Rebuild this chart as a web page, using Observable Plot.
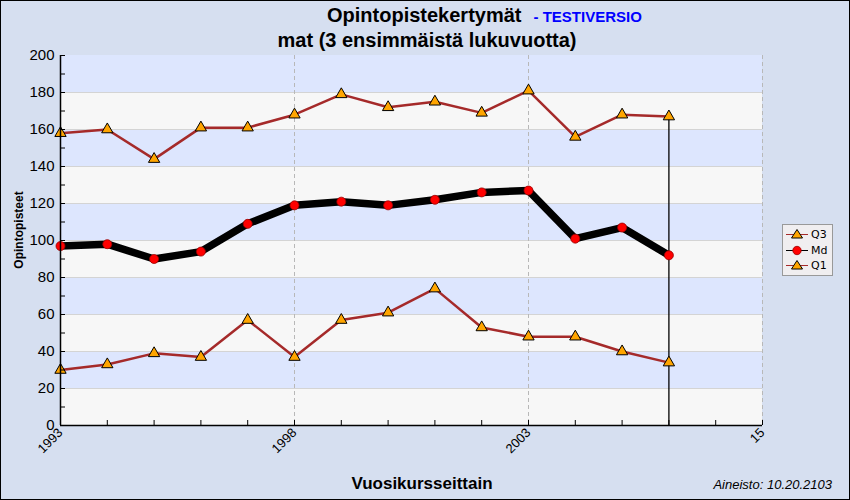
<!DOCTYPE html>
<html>
<head>
<meta charset="utf-8">
<script src="https://cdn.jsdelivr.net/npm/d3@7"></script>
<script src="https://cdn.jsdelivr.net/npm/@observablehq/plot@0.6"></script>
<style>
  body { margin: 0; }
  #wrap { position: relative; width: 850px; height: 500px; background: #d6dff0; overflow: hidden; font-family: "Liberation Sans", Arial, sans-serif; }
  #border { position: absolute; left: 0; top: 0; width: 850px; height: 500px; box-sizing: border-box; border: 1px solid #000; pointer-events: none; }
  #legend { position: absolute; left: 782px; top: 224px; width: 51px; height: 52px; box-sizing: border-box; background: #f0eef0; border: 1px solid #999; }
  #legend .item { position: absolute; left: 2px; height: 15px; font-family: "DejaVu Sans", sans-serif; font-size: 11px; color: #000; }
  #legend svg { position: absolute; left: 0; top: 0; }
  #legend span { position: absolute; left: 26px; top: 0; line-height: 15px; }
</style>
</head>
<body>
<div id="wrap"></div>
<script>
const years = [1993, 1994, 1995, 1996, 1997, 1998, 1999, 2000, 2001, 2002, 2003, 2004, 2005, 2006];
const q3 = [158, 160, 144, 161, 161, 168, 179, 172, 175, 169, 181, 156, 168, 167];
const md = [97, 98, 90, 94, 109, 119, 121, 119, 122, 126, 127, 101, 107, 92];
const q1 = [30, 33, 39, 37, 57, 37, 57, 61, 74, 53, 48, 48, 40, 34];
const xTickValues = [1993, 1998, 2003, 2008];
const xTickLabels = ["1993", "1998", "2003", "15"];
const seriesNames = ["Q3", "Md", "Q1"];

const xDomain = [1993, 2008];
const yDomain = [0, 200];

const W = 850, H = 500, mL = 60, mR = 88, mT = 55, mB = 75;
const plotW = W - mL - mR, plotH = H - mT - mB;

const rows = (vals, name) => years.map((yr, i) => ({year: yr, value: vals[i], series: name}));
const dQ3 = rows(q3, "Q3"), dMd = rows(md, "Md"), dQ1 = rows(q1, "Q1");
const bands = d3.range(0, 200, 20).map((v, i) => ({lo: v, hi: v + 20, blue: i % 2 === 1}));
const last = years.length - 1;

const chart = Plot.plot({
  width: W,
  height: H,
  marginLeft: mL,
  marginRight: mR,
  marginTop: mT,
  marginBottom: mB,
  style: {background: "transparent", fontFamily: "Liberation Sans, Arial, sans-serif", overflow: "visible"},
  x: {domain: xDomain, label: null},
  y: {domain: yDomain, label: null},
  marks: [
    Plot.rect(bands, {y1: "lo", y2: "hi", fill: d => d.blue ? "#dde6fe" : "#f7f7f7"}),
    Plot.gridY(d3.range(20, 200, 20), {stroke: "#d4d4d4", strokeOpacity: 1}),
    Plot.gridX([1998, 2003, 2008], {stroke: "#b8b8b8", strokeOpacity: 1, strokeDasharray: "4,3"}),
    Plot.ruleX([years[last]], {y1: 0, y2: q3[last], stroke: "#000", strokeWidth: 1.3}),
    Plot.line(dQ3, {x: "year", y: "value", stroke: "#a52a2a", strokeWidth: 2.5}),
    Plot.line(dQ1, {x: "year", y: "value", stroke: "#a52a2a", strokeWidth: 2.5}),
    Plot.line(dMd, {x: "year", y: "value", stroke: "#000", strokeWidth: 7.5}),
    Plot.dot(dQ3, {x: "year", y: "value", symbol: "triangle", r: 4.2, fill: "#ffa500", stroke: "#000", strokeWidth: 1}),
    Plot.dot(dQ1, {x: "year", y: "value", symbol: "triangle", r: 4.2, fill: "#ffa500", stroke: "#000", strokeWidth: 1}),
    Plot.dot(dMd, {x: "year", y: "value", r: 4.5, fill: "#ff0000", stroke: "#900", strokeWidth: 0.8}),
    Plot.axisY({ticks: d3.range(0, 201, 20), tickSize: 0, tickPadding: 6, fontSize: 15, fill: "#000", label: null}),
    // inner minor ticks on y (every 10) and x (every year)
    Plot.tickY(d3.range(10, 201, 10), {y: d => d, stroke: "#000", insetRight: plotW - 5}),
    Plot.tickX(d3.range(1994, 2009), {x: d => d, stroke: "#000", insetTop: plotH - 5}),
    Plot.axisX({ticks: xTickValues, tickFormat: d => xTickLabels[xTickValues.indexOf(d)], tickRotate: -45, tickSize: 0, tickPadding: 5, fontSize: 13, fill: "#000", label: null}),
    Plot.ruleY([0], {stroke: "#000", strokeWidth: 1.5}),
    Plot.ruleX([1993], {stroke: "#000", strokeWidth: 1.5})
  ]
});

const wrap = document.getElementById("wrap");
wrap.appendChild(chart);

// Titles and labels as text in the SVG
const svg = d3.select(chart);
const t1 = svg.append("text").attr("x", 327).attr("y", 22).attr("text-anchor", "start").attr("font-family", "Liberation Sans, Arial, sans-serif").attr("font-weight", "bold");
t1.append("tspan").attr("font-size", 20).attr("fill", "#000").text("Opintopistekertymät");
t1.append("tspan").attr("font-size", 15).attr("fill", "#0000ff").attr("dx", 12).text("- TESTIVERSIO");
svg.append("text").attr("x", 427).attr("y", 47).attr("text-anchor", "middle").attr("font-size", 20).attr("font-weight", "bold").attr("fill", "#000").text("mat (3 ensimmäistä lukuvuotta)");
svg.append("text").attr("transform", "translate(23,230) rotate(-90)").attr("text-anchor", "middle").attr("font-size", 12).attr("font-weight", "bold").attr("fill", "#000").text("Opintopisteet");
svg.append("text").attr("x", 422).attr("y", 489).attr("text-anchor", "middle").attr("font-size", 17).attr("font-weight", "bold").attr("fill", "#000").text("Vuosikursseittain");
svg.append("text").attr("x", 832).attr("y", 489).attr("text-anchor", "end").attr("font-size", 13).attr("font-style", "italic").attr("fill", "#000").text("Aineisto: 10.20.2103");

// Legend
const legend = document.createElement("div");
legend.id = "legend";
const tri = '<polygon points="12,2.5 17.5,11 6.5,11" fill="#ffa500" stroke="#000" stroke-width="1"/>';
const circ = '<circle cx="12" cy="7.5" r="4.2" fill="#ff0000" stroke="#900" stroke-width="0.8"/>';
const lineCol = {Q3: "#a52a2a", Md: "#000", Q1: "#a52a2a"};
seriesNames.forEach((name, i) => {
  const item = document.createElement("div");
  item.className = "item";
  item.style.top = (2 + i * 15.5) + "px";
  item.innerHTML = `<svg width="24" height="15"><line x1="1" x2="23" y1="7.5" y2="7.5" stroke="${lineCol[name]}" stroke-width="1"/>${name === "Md" ? circ : tri}</svg><span>${name}</span>`;
  legend.appendChild(item);
});
wrap.appendChild(legend);

const border = document.createElement("div");
border.id = "border";
wrap.appendChild(border);
</script>
</body>
</html>
